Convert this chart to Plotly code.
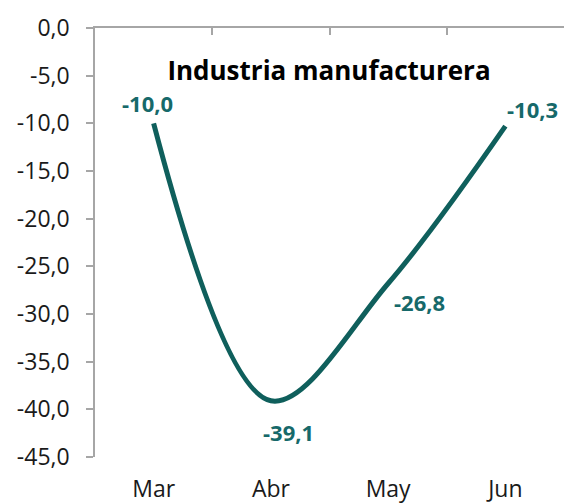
import plotly.graph_objects as go

months = ["Mar", "Abr", "May", "Jun"]
values = [-10.0, -39.1, -26.8, -10.3]
value_labels = ["-10,0", "-39,1", "-26,8", "-10,3"]
y_tickvals = [0, -5, -10, -15, -20, -25, -30, -35, -40, -45]
y_ticktext = ["0,0", "-5,0", "-10,0", "-15,0", "-20,0", "-25,0", "-30,0", "-35,0", "-40,0", "-45,0"]
title_text = "Industria manufacturera"

# label pixel offsets (styling)
label_shifts = [(-6, 20), (18, -31), (31, -19), (27, 17)]

TEAL = "#0F5F5C"
LABEL = "#16696A"
GRAY = "#A6A6A6"
FONT = "Open Sans"

fig = go.Figure()
fig.add_trace(go.Scatter(
    x=months, y=values, mode="lines",
    line=dict(color=TEAL, width=5, shape="spline", smoothing=1.0),
    hoverinfo="skip", showlegend=False,
))
# dummy trace for top axis
fig.add_trace(go.Scatter(x=[], y=[], xaxis="x2", showlegend=False))

for m, v, t, (dx, dy) in zip(months, values, value_labels, label_shifts):
    fig.add_annotation(x=m, y=v, text=t, showarrow=False, xshift=dx, yshift=dy,
                       font=dict(family=FONT, size=22, color=LABEL, weight="bold"))

fig.update_layout(
    width=564, height=504,
    margin=dict(l=95, r=0, t=28, b=47),
    paper_bgcolor="white", plot_bgcolor="white",
    font=dict(family=FONT, color="#1a1a1a"),
    title=dict(text="<b>" + title_text + "</b>", x=329/564, xanchor="center",
               y=1 - 71/504, yanchor="middle", yref="container", automargin=False,
               font=dict(family=FONT, size=26, color="black")),
    xaxis=dict(type="category", range=[-0.5, 3.5], showline=False, ticks="",
               showgrid=False, zeroline=False, tickfont=dict(size=23, color="#1a1a1a"),
               ticklabelstandoff=16, automargin=False),
    xaxis2=dict(overlaying="x", side="top", anchor="y", range=[-0.5, 3.5],
                showline=True, linecolor=GRAY, linewidth=1.5,
                tickmode="array", tickvals=[-0.5, 0.5, 1.5, 2.5, 3.5],
                ticks="inside", ticklen=7, tickcolor=GRAY, tickwidth=1.5,
                showticklabels=False, showgrid=False, zeroline=False, automargin=False),
    yaxis=dict(range=[-45, 0], tickmode="array", tickvals=y_tickvals, ticktext=y_ticktext,
               showline=True, linecolor=GRAY, linewidth=1.5,
               ticks="outside", ticklen=7, tickcolor=GRAY, tickwidth=1.5,
               showgrid=False, zeroline=False, tickfont=dict(size=23, color="#1a1a1a"),
               ticklabelstandoff=12, automargin=False),
)

fig.write_html("out.html", config={"displayModeBar": False},
               post_script="document.body.style.margin='0';")
